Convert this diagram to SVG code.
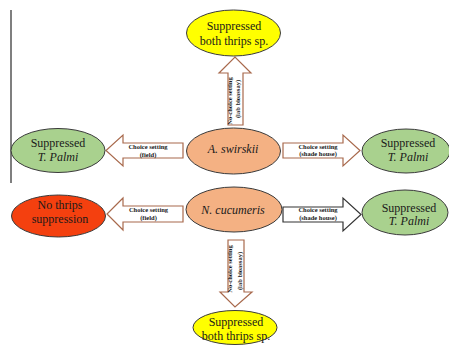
<svg xmlns="http://www.w3.org/2000/svg" width="449" height="345" viewBox="0 0 449 345">
<style>
.el{stroke:#3a3a3a;stroke-width:1}
.yel{fill:#ffff00}
.grn{fill:#a9d18e}
.org{fill:#f4b183}
.red{fill:#f4400f}
.t{font-family:"Liberation Serif","Times New Roman",serif;font-size:12px;fill:#1a1a1a;text-anchor:middle}
.i{font-style:italic}
.arr{fill:#ffffff;stroke:#a8694c;stroke-width:1.2;stroke-linejoin:miter}
.arrk{stroke:#333333}
.lab{font-family:"Liberation Serif","Times New Roman",serif;font-size:6.5px;font-weight:bold;fill:#1a1a1a;text-anchor:middle}
</style>
<rect x="0" y="0" width="449" height="345" fill="#ffffff"/>
<line x1="11" y1="10" x2="11" y2="183" stroke="#7f7f7f" stroke-width="2"/>

<g id="connectors">
  <g id="arrow-up">
    <polygon class="arr" points="228,125 228,73 219,73 235,57 251,73 243,73 243,125"/>
    <text class="lab" font-size="6.2" transform="rotate(-90 232 101)" x="232" y="101">No-choice setting</text>
    <text class="lab" font-size="6.2" transform="rotate(-90 240 99)" x="240" y="99">(lab bioassay)</text>
  </g>
  <g id="arrow-mid-left">
    <polygon class="arr" points="183,143 123,143 123,135 106,150.5 123,166 123,158 183,158"/>
    <text class="lab" x="148" y="149">Choice setting</text>
    <text class="lab" x="148" y="156.5">(field)</text>
  </g>
  <g id="arrow-mid-right">
    <polygon class="arr" points="283,143 343,143 343,135 360,150.5 343,166 343,158 283,158"/>
    <text class="lab" x="318" y="148.5">Choice setting</text>
    <text class="lab" x="318" y="156">(shade house)</text>
  </g>
  <g id="arrow-bot-left">
    <polygon class="arr" points="183,206 123,206 123,198 107,214 123,230 123,222 183,222"/>
    <text class="lab" x="148.5" y="212">Choice setting</text>
    <text class="lab" x="148.5" y="219.5">(field)</text>
  </g>
  <g id="arrow-bot-right">
    <polygon class="arr arrk" points="283,207 343,207 343,198 361,214.5 343,231 343,222 283,222"/>
    <text class="lab" x="318" y="212">Choice setting</text>
    <text class="lab" x="318" y="219.5">(shade house)</text>
  </g>
  <g id="arrow-down">
    <polygon class="arr" points="228,240 244,240 244,292 252,292 235,307 220,292 228,292"/>
    <text class="lab" font-size="6.2" transform="rotate(-90 232 269)" x="232" y="269">No-choice setting</text>
    <text class="lab" font-size="6.2" transform="rotate(-90 242 271)" x="242" y="271">(lab bioassay)</text>
  </g>
</g>

<g id="node-top">
  <ellipse class="el yel" cx="233.5" cy="33" rx="47" ry="23"/>
  <text class="t" x="234" y="29.5">Suppressed</text>
  <text class="t" x="234" y="44.5">both thrips sp.</text>
</g>
<g id="node-swirskii">
  <ellipse class="el org" cx="233.5" cy="151" rx="47" ry="23"/>
  <text class="t i" font-size="13" x="233" y="153">A. swirskii</text>
</g>
<g id="node-mid-left">
  <ellipse class="el grn" cx="58" cy="150.5" rx="47" ry="22"/>
  <text class="t" x="58" y="147">Suppressed</text>
  <text class="t i" x="58" y="160.5">T. Palmi</text>
</g>
<g id="node-mid-right">
  <ellipse class="el grn" cx="406" cy="151" rx="44" ry="22"/>
  <text class="t" x="408" y="147">Suppressed</text>
  <text class="t i" x="408" y="160.5">T. Palmi</text>
</g>
<g id="node-cucumeris">
  <ellipse class="el org" cx="234" cy="209.5" rx="48" ry="22.5"/>
  <text class="t i" x="233" y="214">N. cucumeris</text>
</g>
<g id="node-bot-left">
  <ellipse class="el red" cx="58.5" cy="216" rx="47" ry="21"/>
  <text class="t" x="60" y="209">No thrips</text>
  <text class="t" x="60" y="222.5">suppression</text>
</g>
<g id="node-bot-right">
  <ellipse class="el grn" cx="405" cy="212.5" rx="43" ry="22.5"/>
  <text class="t" x="409" y="211.5">Suppressed</text>
  <text class="t i" x="409" y="225">T. Palmi</text>
</g>
<g id="node-bottom">
  <ellipse class="el yel" cx="235" cy="327.5" rx="42" ry="17"/>
  <text class="t" font-size="11.5" x="236" y="326">Suppressed</text>
  <text class="t" font-size="11.5" x="236" y="339.5">both thrips sp.</text>
</g>
</svg>
